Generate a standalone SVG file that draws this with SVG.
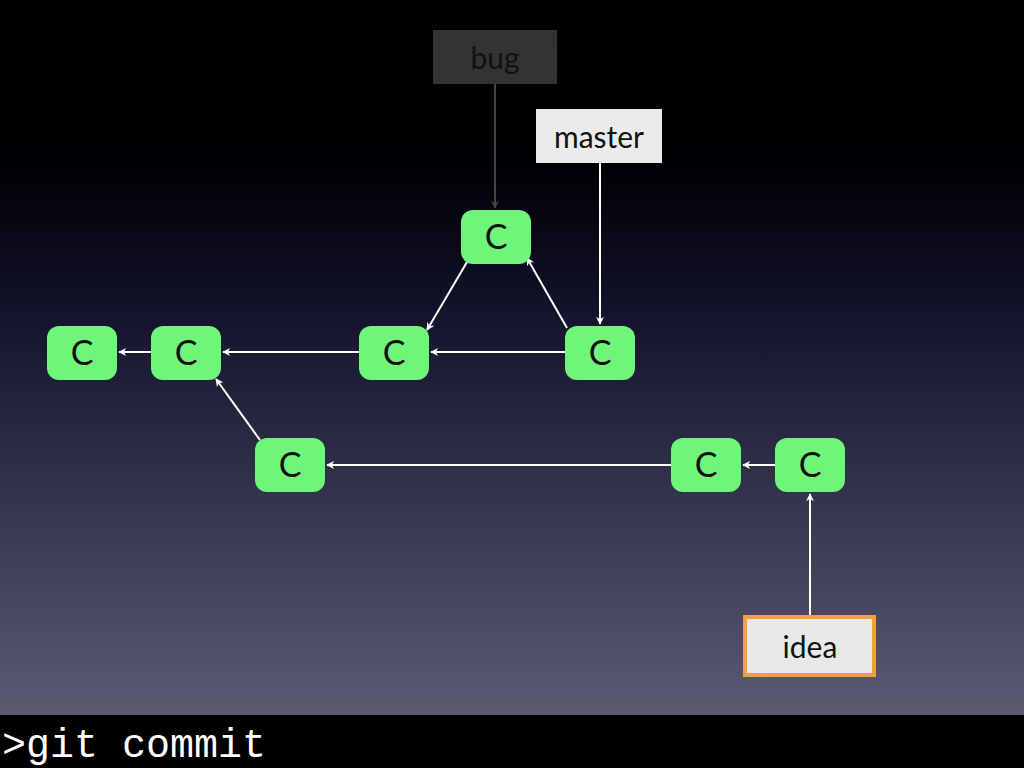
<svg xmlns="http://www.w3.org/2000/svg" width="1024" height="768" viewBox="0 0 1024 768">
<defs>
<linearGradient id="bg" x1="0" y1="0" x2="0" y2="1">
<stop offset="0" stop-color="#000"/>
<stop offset="0.22" stop-color="#010105"/>
<stop offset="0.4" stop-color="#12122a"/>
<stop offset="0.7" stop-color="#3b3b55"/>
<stop offset="1" stop-color="#64647a"/>
</linearGradient>
<marker id="aw" viewBox="0 0 10 10" refX="9" refY="5" markerWidth="4" markerHeight="4" orient="auto"><path d="M0,0 L10,5 L0,10 L3,5 z" fill="#fff"/></marker>
<marker id="ag" viewBox="0 0 10 10" refX="9" refY="5" markerWidth="4" markerHeight="4" orient="auto"><path d="M0,0 L10,5 L0,10 L3,5 z" fill="#444"/></marker>
</defs>
<style>
.n rect{fill:#6ef57a}
.n text{font-family:"Lato","Liberation Sans",sans-serif;font-size:34px;fill:#111;text-anchor:middle}
.c line{stroke:#fff;stroke-width:2;marker-end:url(#aw)}
.l{font-family:"Lato","Liberation Sans",sans-serif;font-size:30px;text-anchor:middle}
</style>
<rect width="1024" height="768" fill="url(#bg)"/>
<g class="c">
<line x1="151" y1="352" x2="119" y2="352"/>
<line x1="359" y1="352" x2="223" y2="352"/>
<line x1="565" y1="352" x2="431" y2="352"/>
<line x1="467" y1="262" x2="427" y2="330"/>
<line x1="567" y1="328" x2="527" y2="258"/>
<line x1="260" y1="440" x2="216" y2="379"/>
<line x1="671" y1="465" x2="327" y2="465"/>
<line x1="775" y1="465" x2="743" y2="465"/>
<line x1="600" y1="163" x2="600" y2="324"/>
<line x1="810" y1="615" x2="810" y2="494"/>
<line x1="495" y1="84" x2="495" y2="208" style="stroke:#444;marker-end:url(#ag)"/>
</g>
<g id="c1" class="n"><rect x="47" y="326" width="70" height="54" rx="12"/><text x="82" y="365">C</text></g>
<g id="c2" class="n"><rect x="151" y="326" width="70" height="54" rx="12"/><text x="186" y="365">C</text></g>
<g id="c3" class="n"><rect x="359" y="326" width="70" height="54" rx="12"/><text x="394" y="365">C</text></g>
<g id="c4" class="n"><rect x="565" y="326" width="70" height="54" rx="12"/><text x="600" y="365">C</text></g>
<g id="c5" class="n"><rect x="461" y="210" width="70" height="54" rx="12"/><text x="496" y="249">C</text></g>
<g id="c6" class="n"><rect x="255" y="438" width="70" height="54" rx="12"/><text x="290" y="477">C</text></g>
<g id="c7" class="n"><rect x="671" y="438" width="70" height="54" rx="12"/><text x="706" y="477">C</text></g>
<g id="c8" class="n"><rect x="775" y="438" width="70" height="54" rx="12"/><text x="810" y="477">C</text></g>
<g id="bug"><rect x="433" y="30" width="124" height="54" fill="#333"/><text class="l" x="495" y="69" fill="#111">bug</text></g>
<g id="master"><rect x="536" y="109" width="126" height="54" fill="#ebebeb"/><text class="l" x="599" y="148" fill="#111">master</text></g>
<g id="idea"><rect x="745" y="617" width="129" height="58" fill="#e8e8e8" stroke="#f0a040" stroke-width="4"/><text class="l" x="810" y="658" fill="#111">idea</text></g>
<rect x="0" y="715" width="1024" height="53" fill="#000"/>
<text x="2" y="757" font-family="'Liberation Mono',monospace" font-size="40" fill="#fff">&gt;git commit</text>
</svg>
